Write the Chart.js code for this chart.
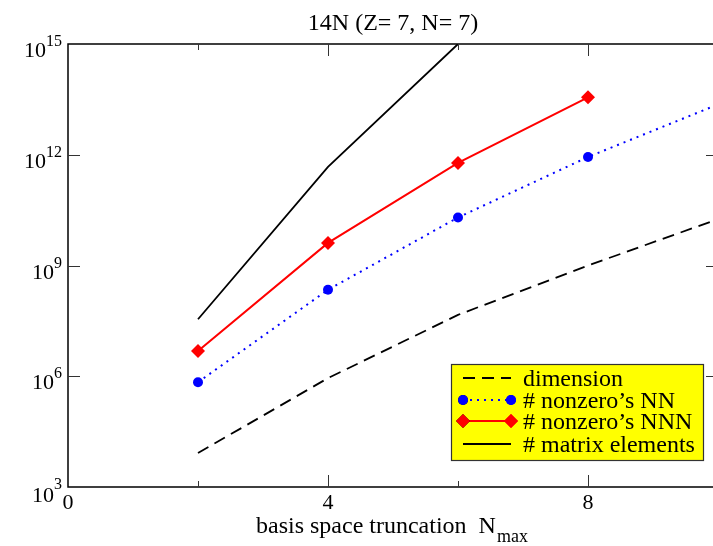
<!DOCTYPE html>
<html>
<head>
<meta charset="utf-8">
<script src="https://cdn.jsdelivr.net/npm/chart.js@4.4.0/dist/chart.umd.min.js"></script>
<style>
html,body{margin:0;padding:0;background:#fff;overflow:hidden;}
#wrap{width:713px;height:546px;overflow:hidden;}
</style>
</head>
<body>
<div id="wrap"><canvas id="chart" width="730" height="546"></canvas></div>
<script>
var nmax = [2, 4, 6, 8, 10];
var dimension = [8.3e3, 8.9e5, 4.6e7, 1.0e9, 1.8e10];
var nonzeroNN = [6.9e5, 2.2e8, 2.0e10, 8.7e11, 2.3e13];
var nonzeroNNN = [4.8e6, 4.1e9, 6.0e11, 3.6e13];
var matrixElements = [3.5e7, 4.7e11, 1.0e15];
var seriesNames = ['dimension', '# nonzero\u2019s NN', '# nonzero\u2019s NNN', '# matrix elements'];
var xTickLabels = [0, 4, 8];
var xMinorTicks = [2, 6];
var yTickExponents = [3, 6, 9, 12, 15];

var SERIF = '"Liberation Serif", "Times New Roman", serif';

function pts(values){
    return values.map(function(v, i){ return {x: nmax[i], y: v}; });
}

// axes, ticks, labels and legend box drawn by hand (inward ticks, superscripts)
var decorPlugin = {
    id: 'decor',
    afterDraw: function(chart){
        var ctx = chart.ctx, ca = chart.chartArea;
        var xs = chart.scales.x, ys = chart.scales.y;
        ctx.save();
        ctx.strokeStyle = '#000';
        ctx.lineWidth = 1.5;
        ctx.beginPath();
        ctx.rect(ca.left, ca.top, ca.right - ca.left, ca.bottom - ca.top);
        ctx.stroke();

        ctx.lineWidth = 1;
        ctx.strokeStyle = '#333';
        ctx.beginPath();
        xTickLabels.concat(xMinorTicks).forEach(function(v){
            if(v === 0){ return; }
            var px = Math.round(xs.getPixelForValue(v)) + 0.5;
            var len = xMinorTicks.indexOf(v) >= 0 ? 6 : 12;
            ctx.moveTo(px, ca.bottom); ctx.lineTo(px, ca.bottom - len);
            ctx.moveTo(px, ca.top); ctx.lineTo(px, ca.top + len);
        });
        yTickExponents.forEach(function(e){
            if(e === 3 || e === 15){ return; }
            var py = Math.round(ys.getPixelForValue(Math.pow(10, e))) + 0.5;
            ctx.moveTo(ca.left, py); ctx.lineTo(ca.left + 12, py);
            ctx.moveTo(ca.right, py); ctx.lineTo(ca.right - 12, py);
        });
        ctx.stroke();

        ctx.fillStyle = '#000';
        ctx.textAlign = 'center';
        ctx.textBaseline = 'alphabetic';
        ctx.font = '22px ' + SERIF;
        xTickLabels.forEach(function(v){
            ctx.fillText(String(v), xs.getPixelForValue(v), 509);
        });

        var rightX = ca.left - 6;
        yTickExponents.forEach(function(e){
            var py = ys.getPixelForValue(Math.pow(10, e));
            var drop = e === 3 ? 2 : 0;
            ctx.textAlign = 'right';
            ctx.font = '16px ' + SERIF;
            var ew = ctx.measureText(String(e)).width;
            ctx.fillText(String(e), rightX, py + 2);
            ctx.font = '22px ' + SERIF;
            ctx.fillText('10', rightX - ew, py + 13 + drop);
        });

        ctx.textAlign = 'center';
        ctx.font = '24px ' + SERIF;
        ctx.fillText('14N (Z= 7, N= 7)', 393, 30);

        ctx.textAlign = 'left';
        ctx.font = '24px ' + SERIF;
        var t = 'basis space truncation  N';
        ctx.fillText(t, 256, 533);
        var tw = ctx.measureText(t).width;
        ctx.font = '18px ' + SERIF;
        ctx.fillText('max', 256 + tw + 1, 542);

        // legend
        var lx = 451, ly = 364, lw = 252, lh = 96;
        ctx.fillStyle = '#ffff00';
        ctx.fillRect(lx, ly, lw, lh);
        ctx.strokeStyle = '#333';
        ctx.lineWidth = 1.2;
        ctx.strokeRect(lx + 0.5, ly + 0.5, lw, lh);
        var rows = [386, 408, 429, 452];
        chart.data.datasets.forEach(function(ds, i){
            var y = rows[i] - 8;
            ctx.save();
            ctx.strokeStyle = ds.borderColor;
            ctx.lineWidth = ds.borderWidth;
            ctx.setLineDash(ds.borderDash || []);
            ctx.beginPath();
            ctx.moveTo(463, y); ctx.lineTo(511, y);
            ctx.stroke();
            ctx.setLineDash([]);
            if(ds.pointRadius > 0){
                [463, 511].forEach(function(px){
                    Chart.helpers.drawPoint(ctx, {
                        pointStyle: ds.pointStyle, radius: ds.pointRadius,
                        rotation: 0, borderWidth: 0
                    }, px, y);
                    ctx.fillStyle = ds.pointBackgroundColor;
                    ctx.fill();
                });
            }
            ctx.restore();
            ctx.fillStyle = '#000';
            ctx.font = '24px ' + SERIF;
            ctx.fillText(ds.label, 523, rows[i]);
        });
        ctx.restore();
    }
};

new Chart(document.getElementById('chart'), {
    type: 'line',
    data: {
        datasets: [{
            label: seriesNames[0],
            data: pts(dimension),
            borderColor: '#000',
            borderWidth: 1.8,
            borderDash: [12, 7],
            pointRadius: 0
        }, {
            label: seriesNames[1],
            data: pts(nonzeroNN),
            borderColor: '#0000ff',
            borderWidth: 2,
            borderDash: [2, 5],
            pointStyle: 'circle',
            pointRadius: 5,
            pointBorderWidth: 0,
            pointBackgroundColor: '#0000ff'
        }, {
            label: seriesNames[2],
            data: pts(nonzeroNNN),
            borderColor: '#ff0000',
            borderWidth: 2,
            pointStyle: 'rectRot',
            pointRadius: 7,
            pointBorderWidth: 0,
            pointBackgroundColor: '#ff0000'
        }, {
            label: seriesNames[3],
            data: pts(matrixElements),
            borderColor: '#000',
            borderWidth: 1.8,
            pointRadius: 0
        }]
    },
    options: {
        responsive: false,
        animation: false,
        events: [],
        layout: {padding: {left: 68, top: 44, right: 12, bottom: 59}},
        elements: {line: {tension: 0}},
        plugins: {legend: {display: false}, title: {display: false}, tooltip: {enabled: false}},
        scales: {
            x: {type: 'linear', min: 0, max: 10, display: false},
            y: {type: 'logarithmic', min: 1e3, max: 1e15, display: false}
        }
    },
    plugins: [decorPlugin]
});
</script>
</body>
</html>
